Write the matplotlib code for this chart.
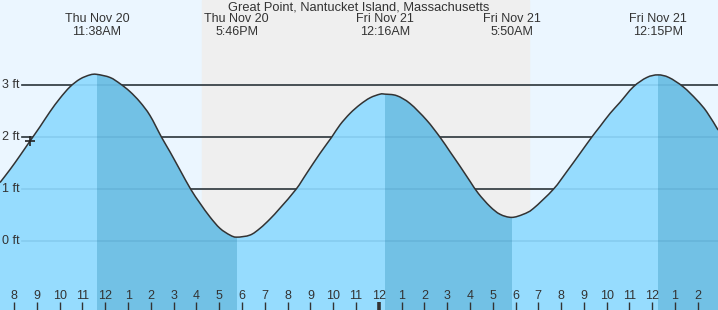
import matplotlib
matplotlib.use("Agg")
import matplotlib.pyplot as plt
from matplotlib.path import Path
from matplotlib.patches import PathPatch, Rectangle
import numpy as np

# =========================
# 1. DATA (hours since Thu Nov 20 00:00, height in ft)
# =========================
times = [7.38, 7.82, 8.26, 8.70, 9.13, 9.57, 10.01, 10.45, 10.89, 11.33,
         11.63, 12.21, 12.65, 13.08, 13.52, 13.96, 14.47, 14.84, 15.28, 15.75,
         16.16, 16.59, 17.03, 17.47, 17.77, 18.35, 18.79, 19.23, 19.67, 20.37,
         20.84, 21.42, 21.93, 22.30, 22.74, 23.18, 23.62, 24.06, 24.27, 24.79,
         25.37, 26.10, 26.69, 27.13, 27.57, 28.01, 28.37, 28.88, 29.32, 29.83,
         30.34, 30.78, 31.66, 32.25, 32.83, 33.34, 33.71, 34.15, 34.58, 35.17,
         35.76, 36.25, 36.73, 37.36, 37.95, 38.39, 38.89]
heights = [1.13, 1.38, 1.65, 1.93, 2.20, 2.49, 2.75, 2.97, 3.12, 3.20,
           3.21, 3.15, 3.03, 2.88, 2.68, 2.42, 2.00, 1.72, 1.37, 1.00,
           0.73, 0.47, 0.25, 0.12, 0.08, 0.12, 0.25, 0.43, 0.64, 1.00,
           1.31, 1.69, 2.00, 2.24, 2.46, 2.63, 2.76, 2.83, 2.83, 2.80,
           2.65, 2.33, 2.00, 1.72, 1.44, 1.15, 0.92, 0.67, 0.52, 0.46,
           0.52, 0.63, 1.00, 1.34, 1.69, 2.00, 2.21, 2.46, 2.67, 2.97,
           3.15, 3.20, 3.15, 2.97, 2.72, 2.49, 2.14]

# tide events (high/low)
event_times = [11.63, 17.77, 24.27, 29.83, 36.25]
event_days = ["Thu Nov 20", "Thu Nov 20", "Fri Nov 21", "Fri Nov 21", "Fri Nov 21"]
event_clock = ["11:38AM", "5:46PM", "12:16AM", "5:50AM", "12:15PM"]
# falling tide periods (high -> low)
ebb_periods = [(11.63, 17.77), (24.27, 29.83), (36.25, 38.89)]

sunset = 16.25
sunrise = 30.58
now_time, now_height = 8.71, 1.92

y_levels = [0, 1, 2, 3]
y_labels = ["0 ft", "1 ft", "2 ft", "3 ft"]
hours = list(range(8, 39))

title = "Great Point, Nantucket Island, Massachusetts"


def smooth_path(xs, ys, bottom=None):
    # catmull-rom style bezier through the points
    pts = np.column_stack([xs, ys])
    n = len(pts)
    verts = [pts[0]]
    codes = [Path.MOVETO]
    for i in range(n - 1):
        p0 = pts[max(i - 1, 0)]
        p1 = pts[i]
        p2 = pts[i + 1]
        p3 = pts[min(i + 2, n - 1)]
        verts += [p1 + (p2 - p0) / 6, p2 - (p3 - p1) / 6, p2]
        codes += [Path.CURVE4] * 3
    if bottom is not None:
        verts += [(xs[-1], bottom), (xs[0], bottom), pts[0]]
        codes += [Path.LINETO, Path.LINETO, Path.CLOSEPOLY]
    return Path(np.array(verts), codes)


# =========================
# 2. PLOT
# =========================
W, H = 718, 310
plt.rcParams['font.family'] = ['Liberation Sans', 'DejaVu Sans']
fig = plt.figure(figsize=(W / 100, H / 100), dpi=100)
ax = fig.add_axes([0, 0, 1, 1])

x0, x1 = 7.38, 38.885
ax.set_xlim(x0, x1)
ax.set_ylim(-1.321, 4.640)
ax.axis('off')

txt_col = '#333333'
fs = 9
ax.axvspan(x0, x1, color='#ebf6ff', zorder=0)
ax.axvspan(sunset, sunrise, color='#efefef', zorder=0.5)

# grid lines
for lv, lb in zip(y_levels, y_labels):
    ax.axhline(lv, xmin=22 / W, xmax=1, color='#333333', lw=1.2, zorder=1)
    ax.axhline(lv, xmin=22 / W, xmax=1, color='#1a5f8a', lw=1.2, alpha=0.13, zorder=4)
    ax.text(2 / W, lv, lb, transform=ax.get_yaxis_transform(), ha='left', va='center',
            fontsize=fs, color=txt_col, zorder=5)

t = np.array(times)
h = np.array(heights)
ax.add_patch(PathPatch(smooth_path(t, h, bottom=-2), facecolor='#96dcfe', lw=0, zorder=2))
for a, b in ebb_periods:
    dark = PathPatch(smooth_path(t, h, bottom=-2), facecolor='#72c1e5', lw=0, zorder=3)
    ax.add_patch(dark)
    clip = Rectangle((a, -2), b - a, 8, transform=ax.transData)
    dark.set_clip_path(clip)

ax.add_patch(PathPatch(smooth_path(t, h), facecolor='none', edgecolor='#333333',
                       lw=1.1, zorder=6))
ax.plot([now_time], [now_height], marker='+', color='#222222', ms=7, mew=1.2, zorder=7)

# title & event labels
ax.text(0.5, 1 - 7.5 / H, title, transform=ax.transAxes, ha='center', va='center',
        fontsize=9.3, color=txt_col)
xt = ax.get_xaxis_transform()
for et, d, c in zip(event_times, event_days, event_clock):
    ax.text(et, 1 - 19.5 / H, d, transform=xt, ha='center', va='center', fontsize=fs, color=txt_col)
    ax.text(et, 1 - 32 / H, c, transform=xt, ha='center', va='center', fontsize=fs, color=txt_col)

# hour ticks along the bottom
for hr in hours:
    lab = str(hr % 12 if hr % 12 else 12)
    ax.text(hr, 1 - 296 / H, lab, transform=xt, ha='center', va='center', fontsize=fs,
            color=txt_col, zorder=8)
    lw = 2.6 if hr % 24 == 0 else 1.0
    ax.vlines(hr, 0, 8 / H, transform=xt, color='#333333', lw=lw, zorder=8)

fig.savefig("out.png", dpi=100)
